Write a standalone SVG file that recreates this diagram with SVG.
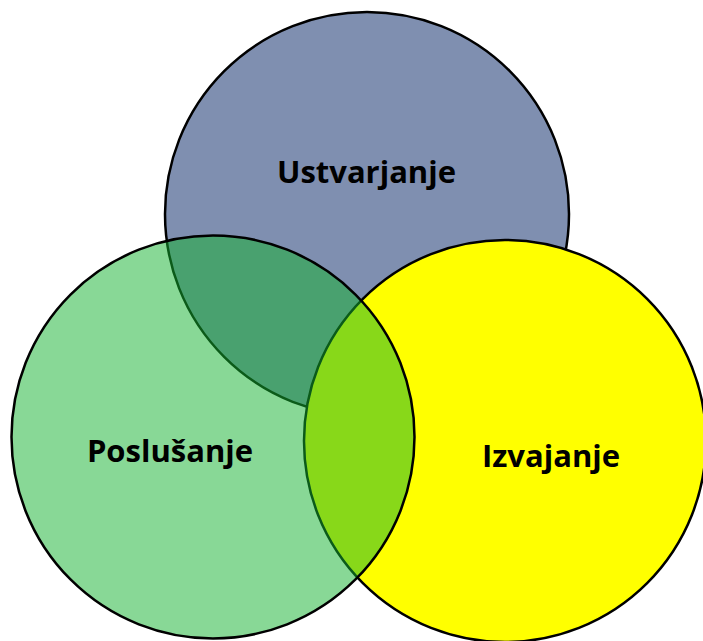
<svg xmlns="http://www.w3.org/2000/svg" width="703" height="641" viewBox="0 0 703 641">
<style>
.c{stroke:#000;stroke-width:2.5}
.t{font-family:"Open Sans","Liberation Sans",sans-serif;font-weight:bold;font-size:31px;fill:#000;text-anchor:middle}
</style>
<rect width="703" height="641" fill="#fff"/>
<g id="ustvarjanje">
<circle class="c" cx="367" cy="214" r="202" fill="#7f8fb0"/>
</g>
<g id="izvajanje">
<circle class="c" cx="505" cy="441" r="201" fill="#ffff00"/>
</g>
<g id="poslusanje">
<circle cx="213" cy="437" r="201.5" fill="#16b332" fill-opacity="0.51" stroke="#000" stroke-width="2.5"/>
</g>
<g id="labels">
<text class="t" x="366.5" y="183">Ustvarjanje</text>
<text class="t" x="170" y="462">Poslušanje</text>
<text class="t" x="551" y="467">Izvajanje</text>
</g>
</svg>
